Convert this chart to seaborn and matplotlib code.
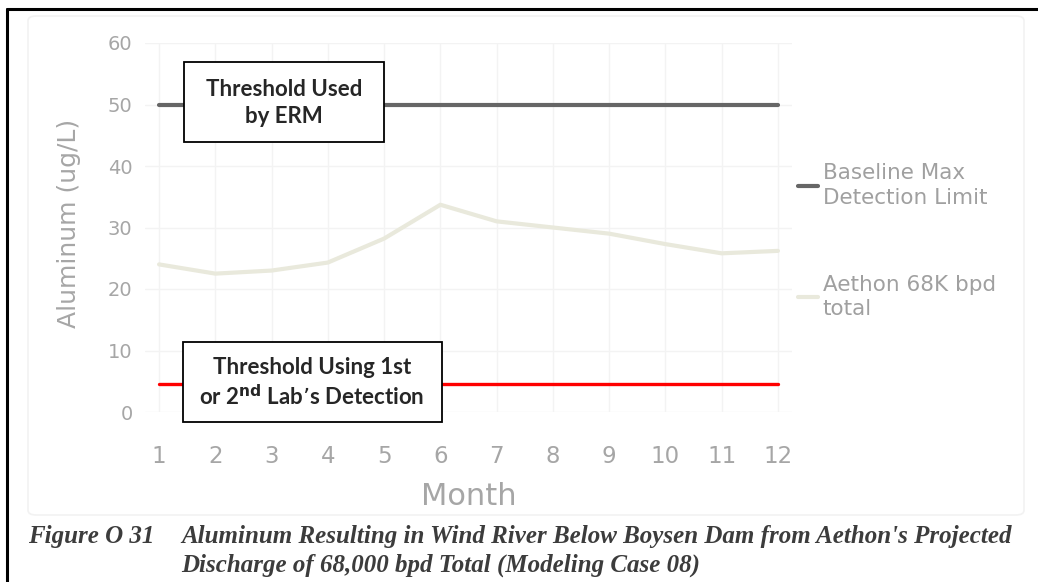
"""
Aluminum in Wind River below Boysen Dam - recreated figure
"""

import numpy as np
import pandas as pd
import matplotlib.pyplot as plt
import seaborn as sns
from matplotlib.lines import Line2D
from matplotlib.patches import Rectangle, FancyBboxPatch

# Data
MONTHS = [1, 2, 3, 4, 5, 6, 7, 8, 9, 10, 11, 12]
BASELINE_MAX = [50] * 12
AETHON_68K = [24.0, 22.5, 23.0, 24.3, 28.2, 33.7, 31.0, 30.0, 29.0, 27.3, 25.8, 26.2]
LAB_THRESHOLD = [4.5] * 12
SERIES_NAMES = ['Baseline Max\nDetection Limit', 'Aethon 68K bpd\ntotal']
Y_TICKS = [0, 10, 20, 30, 40, 50, 60]

BOX_1 = 'Threshold Used\nby ERM'
BOX_2 = 'Threshold Using 1st\nor 2$^{\\mathbf{nd}}$ Lab\u2019s Detection'
CAPTION_NUM = 'Figure O 31'
CAPTION_1 = "Aluminum Resulting in Wind River Below Boysen Dam from Aethon's Projected"
CAPTION_2 = 'Discharge of 68,000 bpd Total (Modeling Case 08)'

sns.set_style('white')
plt.rcParams['font.family'] = ['DejaVu Sans']

df = pd.DataFrame({
    'Month': MONTHS * 2,
    'Value': BASELINE_MAX + AETHON_68K,
    'Series': [SERIES_NAMES[0]] * 12 + [SERIES_NAMES[1]] * 12,
})

W, H = 1038, 582


def fx(px):
    return px / W


def fy(py):
    return 1 - py / H


fig = plt.figure(figsize=(W / 100, H / 100), dpi=100)
fig.patch.set_facecolor('white')

# axes placed in pixel terms
left, right, top, bottom = 145, 792, 43, 412
ax = fig.add_axes([fx(left), fy(bottom), (right - left) / W, (bottom - top) / H])

# faint chart-area frame (the Excel chart border)
fig.add_artist(FancyBboxPatch((fx(28), fy(515)), (1024 - 28) / W, (515 - 16) / H,
                              boxstyle='round,pad=0,rounding_size=0.008',
                              transform=fig.transFigure, fill=False,
                              edgecolor='#f2f2f2', linewidth=1.2))

ax.grid(True, color='#f3f3f3', linewidth=1.0)
ax.set_axisbelow(True)

sns.lineplot(data=df, x='Month', y='Value', hue='Series', ax=ax,
             palette=['#666666', '#e9e9dc'], linewidth=3.0, legend=True)
sns.lineplot(x=MONTHS, y=LAB_THRESHOLD, ax=ax, color='#ff0000',
             linewidth=2.4, legend=False)

ax.set_xlim(0.75, 12.25)
ax.set_ylim(0, 60)
ax.set_xticks(MONTHS)
ax.set_yticks(Y_TICKS)
for s in ax.spines.values():
    s.set_visible(False)

ax.tick_params(axis='x', labelsize=16.5, labelcolor='#a6a6a6', pad=24, length=0)
ax.tick_params(axis='y', labelsize=14, labelcolor='#a6a6a6', pad=9, length=0)
ax.set_xlabel('Month', fontsize=22, color='#a6a6a6', labelpad=10)
ax.set_ylabel('Aluminum (ug/L)', fontsize=18, color='#a6a6a6')
ax.yaxis.set_label_coords(-0.099, 0.51)

leg = ax.legend(loc='upper left', bbox_to_anchor=(fx(798), fy(163)),
                bbox_transform=fig.transFigure, frameon=False,
                fontsize=15.5, handlelength=0.95, handletextpad=0.2,
                labelspacing=3.1, borderaxespad=0, borderpad=0)
for t in leg.get_texts():
    t.set_color('#a0a0a0')
    t.set_linespacing(1.3)

# overlay boxes drawn over the chart
for (x0, y0, x1, y1), label, (cx, cy) in [
        ((184, 62, 384, 142), BOX_1, (284, 103)),
        ((183, 342, 442, 422), BOX_2, (312, 383))]:
    fig.add_artist(Rectangle((fx(x0), fy(y1)), (x1 - x0) / W, (y1 - y0) / H,
                             transform=fig.transFigure, facecolor='white',
                             edgecolor='black', linewidth=1.3, zorder=5))
    fig.text(fx(cx), fy(cy), label, ha='center', va='center', fontsize=16,
             fontweight='bold', family='Lato', linespacing=1.3, zorder=6)

# caption
cap_kw = dict(fontsize=18, fontweight='bold', style='italic',
              family='Liberation Serif', color='#3c3c3c', va='center')
fig.text(fx(28), fy(537), CAPTION_NUM, ha='left', **cap_kw)
fig.text(fx(181), fy(537), CAPTION_1, ha='left', **cap_kw)
fig.text(fx(181), fy(565), CAPTION_2, ha='left', **cap_kw)

# page border (left and top)
fig.add_artist(Line2D([fx(7), fx(7)], [0, fy(9)], transform=fig.transFigure,
                      color='black', linewidth=2.2))
fig.add_artist(Line2D([fx(7), 1], [fy(9), fy(9)], transform=fig.transFigure,
                      color='black', linewidth=2.2))

fig.savefig('out.png', dpi=100, facecolor='white')
